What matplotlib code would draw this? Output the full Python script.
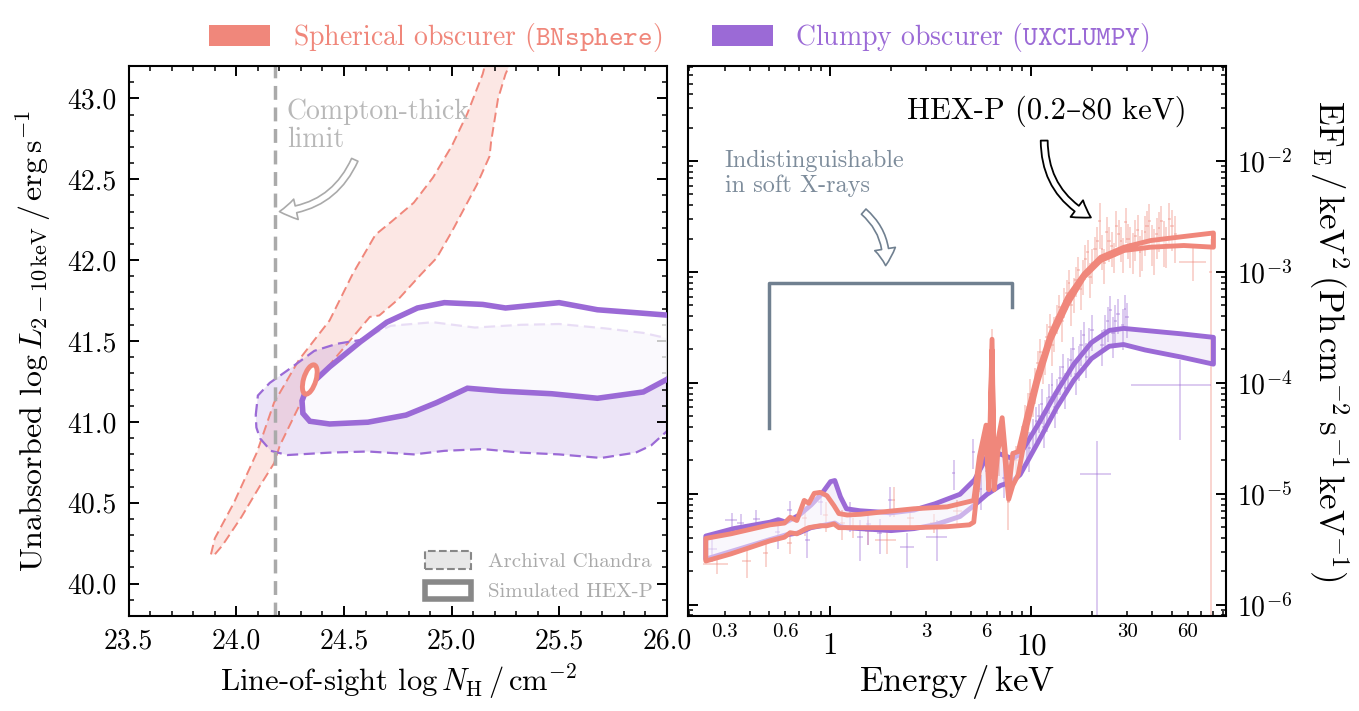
import numpy as np
import matplotlib
matplotlib.use('Agg')
import matplotlib.pyplot as plt
from matplotlib.colors import to_rgba
from matplotlib.patches import Patch, Polygon, Ellipse
from matplotlib.ticker import (MultipleLocator, FixedLocator, LogLocator, FuncFormatter,
                               FormatStrFormatter, NullFormatter)

plt.rcParams['font.family'] = ['cmr10', 'DejaVu Serif']
plt.rcParams['mathtext.fontset'] = 'cm'
plt.rcParams['axes.formatter.use_mathtext'] = True
plt.rcParams['axes.linewidth'] = 1.5
for ax_name in ['xtick', 'ytick']:
    plt.rcParams[f'{ax_name}.direction'] = 'in'
    plt.rcParams[f'{ax_name}.major.size'] = 7
    plt.rcParams[f'{ax_name}.minor.size'] = 3.5
    plt.rcParams[f'{ax_name}.major.width'] = 1.4
    plt.rcParams[f'{ax_name}.minor.width'] = 1.1
plt.rcParams['xtick.top'] = True
plt.rcParams['ytick.right'] = True

SPH = '#F0877B'
CLU = '#9B6AD6'
SLATE = '#708090'

# ---- left panel: N_H vs L_X confidence regions ----
compton_nh = 24.18

# archival Chandra, spherical obscurer (closed outline)
sph_chandra_nh = [23.882, 23.900, 23.989, 24.095, 24.175, 24.291, 24.433, 24.540, 24.646, 24.717,
                  24.824, 24.913, 25.002, 25.073, 25.144, 25.170, 25.295, 25.250, 25.215, 25.183,
                  25.176, 25.117, 25.055, 25.002, 24.930, 24.859, 24.753, 24.664, 24.620, 24.522,
                  24.397, 24.291, 24.202, 24.175, 24.113, 24.024, 23.935, 23.900]
sph_chandra_lx = [40.181, 40.280, 40.501, 40.810, 41.119, 41.384, 41.627, 41.914, 42.157, 42.234,
                  42.355, 42.510, 42.709, 42.907, 43.150, 43.283, 43.283, 43.150, 42.996, 42.731,
                  42.642, 42.466, 42.311, 42.179, 42.013, 41.914, 41.759, 41.658, 41.649, 41.494,
                  41.296, 41.097, 40.854, 40.744, 40.612, 40.413, 40.236, 40.181]

# archival Chandra, clumpy obscurer
clu_chandra_nh = [24.090, 24.100, 24.155, 24.237, 24.362, 24.468, 24.575, 24.717, 24.913, 25.108,
                  25.321, 25.499, 25.712, 25.890, 26.000, 26.100, 26.100, 26.000, 25.926, 25.855,
                  25.694, 25.499, 25.321, 25.144, 24.966, 24.824, 24.611, 24.433, 24.237, 24.160,
                  24.110, 24.093]
clu_chandra_lx = [41.042, 41.163, 41.241, 41.318, 41.439, 41.483, 41.506, 41.594, 41.616, 41.583,
                  41.600, 41.605, 41.578, 41.550, 41.517, 41.490, 41.030, 40.943, 40.854, 40.810,
                  40.777, 40.799, 40.810, 40.832, 40.821, 40.799, 40.817, 40.810, 40.795, 40.821,
                  40.898, 40.965]

# simulated HEX-P, clumpy obscurer
clu_hexp_nh = [24.305, 24.309, 24.341, 24.433, 24.611, 24.788, 24.930, 25.073, 25.233, 25.464,
               25.677, 25.890, 26.000, 26.100, 26.100, 26.000, 25.855, 25.677, 25.499, 25.250,
               25.144, 24.966, 24.841, 24.699, 24.575, 24.433, 24.353, 24.317]
clu_hexp_lx = [41.130, 41.053, 41.004, 40.987, 40.998, 41.042, 41.119, 41.208, 41.190, 41.174,
               41.146, 41.185, 41.263, 41.360, 41.660, 41.660, 41.675, 41.693, 41.737, 41.704,
               41.726, 41.737, 41.704, 41.616, 41.494, 41.340, 41.241, 41.174]

# simulated HEX-P, spherical obscurer (small ellipse)
sph_hexp_center = (24.341, 41.262)
sph_hexp_size = (0.058, 0.185)

# ---- right panel: spectra ----
sph_e = [0.24, 0.32, 0.50, 0.59, 0.63, 0.68, 0.74, 0.78, 0.83, 0.89, 0.96, 1.04, 1.10, 1.21, 1.41,
         1.77, 2.6, 3.8, 4.9, 5.15, 5.5, 5.93, 6.12, 6.35, 6.51, 6.8, 7.13, 7.68, 8.05, 8.57,
         9.5, 10.7, 12.4, 15.1, 18.2, 22.0, 28.8, 39.0, 57.0, 80.0]
sph_hi = [4.0e-6, 4.4e-6, 5.3e-6, 5.5e-6, 6.2e-6, 5.8e-6, 8.8e-6, 8.3e-6, 1.02e-5, 1.04e-5, 9.7e-6,
          7.9e-6, 6.7e-6, 6.5e-6, 6.6e-6, 6.9e-6, 7.4e-6, 7.7e-6, 8.6e-6, 8.8e-6, 2.2e-5, 4.2e-5,
          1.4e-5, 2.5e-4, 1.4e-5, 3.1e-5, 4.9e-5, 1.1e-5, 2.33e-5, 2.43e-5, 5.3e-5, 1.22e-4,
          2.8e-4, 6.0e-4, 9.7e-4, 1.37e-3, 1.69e-3, 1.94e-3, 2.11e-3, 2.27e-3]
sph_lo = [2.5e-6, 2.9e-6, 3.8e-6, 4.1e-6, 4.5e-6, 4.4e-6, 4.8e-6, 5.0e-6, 5.1e-6, 5.2e-6, 5.2e-6,
          5.4e-6, 5.0e-6, 5.0e-6, 5.0e-6, 5.0e-6, 5.0e-6, 5.1e-6, 5.3e-6, 5.6e-6, 1.7e-5, 3.4e-5,
          1.1e-5, 2.0e-4, 1.1e-5, 2.5e-5, 3.9e-5, 0.9e-5, 1.2e-5, 1.5e-5, 4.2e-5, 1.02e-4,
          2.43e-4, 5.2e-4, 9.1e-4, 1.28e-3, 1.58e-3, 1.69e-3, 1.75e-3, 1.69e-3]

clu_e = [0.24, 0.33, 0.50, 0.55, 0.60, 0.70, 0.80, 0.90, 1.00, 1.05, 1.12, 1.20, 1.40, 2.0, 2.6,
         3.3, 4.4, 5.2, 6.0, 7.0, 8.0, 8.75, 10.7, 13.2, 16.2, 19.8, 24.3, 28.6, 36.6, 55.0, 80.0]
clu_hi = [4.2e-6, 4.9e-6, 5.6e-6, 5.9e-6, 5.6e-6, 6.5e-6, 8.0e-6, 1.0e-5, 1.3e-5, 1.33e-5, 9.5e-6,
          7.4e-6, 7.1e-6, 6.8e-6, 7.2e-6, 8.2e-6, 1.0e-5, 1.35e-5, 2.2e-5, 2.3e-5, 2.1e-5, 2.3e-5,
          4.2e-5, 8.2e-5, 1.49e-4, 2.33e-4, 3.0e-4, 3.13e-4, 3.0e-4, 2.8e-4, 2.6e-4]
clu_lo = [2.6e-6, 3.1e-6, 3.9e-6, 4.1e-6, 4.3e-6, 4.5e-6, 5.0e-6, 5.2e-6, 5.4e-6, 5.5e-6, 5.1e-6,
          5.0e-6, 4.9e-6, 4.7e-6, 4.9e-6, 5.3e-6, 6.3e-6, 8.0e-6, 1.0e-5, 1.2e-5, 1.3e-5, 1.5e-5,
          2.9e-5, 5.9e-5, 1.07e-4, 1.67e-4, 2.16e-4, 2.24e-4, 2.0e-4, 1.73e-4, 1.49e-4]

# simulated HEX-P data: energy, flux, fractional x error, fractional y error
sph_data_e = [0.273, 0.385, 0.48, 0.63, 0.75, 0.95, 1.15, 1.30, 1.55, 1.91, 2.07, 2.5, 3.3, 4.3,
              5.5, 6.35, 6.9, 7.7, 8.4,
              9.0, 9.6, 10.2, 10.8, 11.4, 12.0, 12.7, 13.4, 14.2, 15.0, 15.8, 16.7, 17.6, 18.6,
              19.6, 20.7, 21.9, 23.1, 24.4, 25.8, 27.2, 28.7, 30.3, 32.0, 33.8, 35.7, 37.7, 39.8,
              42.0, 44.4, 47.0, 50.0, 64.0, 78.0,
              9.3, 9.9, 10.5, 11.1, 11.7, 12.35, 13.05, 13.8, 14.6, 15.4, 16.25, 17.15, 18.1, 19.1,
              20.1, 21.3, 22.5, 23.7, 25.1, 26.5, 27.9, 29.5, 31.1, 32.9, 34.7, 36.7, 38.7, 40.9,
              43.2, 45.7, 48.5, 52.0]
sph_data_f = [2.35e-6, 2.5e-6, 2.9e-6, 3.6e-6, 6.0e-6, 6.5e-6, 5.5e-6, 5.0e-6, 4.6e-6, 3.8e-6,
              8.8e-6, 6.0e-6, 5.5e-6, 7.0e-6, 1.6e-5, 1.9e-4, 2.4e-5, 8.5e-6, 2.0e-5,
              3.0e-5, 6.0e-5, 7.0e-5, 1.5e-4, 1.4e-4, 2.6e-4, 2.2e-4, 3.9e-4, 3.6e-4, 6.5e-4,
              5.0e-4, 8.5e-4, 7.0e-4, 1.3e-3, 9.0e-4, 1.6e-3, 2.9e-3, 1.2e-3, 1.9e-3, 1.4e-3,
              2.2e-3, 1.5e-3, 2.0e-3, 1.6e-3, 2.4e-3, 1.7e-3, 2.6e-3, 1.9e-3, 2.2e-3, 2.9e-3,
              1.8e-3, 2.6e-3, 1.24e-3, 1.0e-3,
              4.5e-5, 8.0e-5, 1.0e-4, 1.9e-4, 1.8e-4, 3.2e-4, 2.9e-4, 4.8e-4, 5.5e-4, 8.0e-4,
              6.5e-4, 1.05e-3, 9.5e-4, 1.5e-3, 1.2e-3, 1.9e-3, 1.6e-3, 2.3e-3, 1.7e-3, 2.6e-3,
              1.9e-3, 2.8e-3, 1.8e-3, 2.1e-3, 1.5e-3, 2.3e-3, 2.9e-3, 1.7e-3, 2.5e-3, 2.0e-3,
              3.0e-3, 2.2e-3]
sph_data_ex = [0.14, 0.05, 0.03, 0.03, 0.03, 0.03, 0.03, 0.03, 0.04, 0.12, 0.02, 0.04, 0.05, 0.05,
               0.02, 0.01, 0.02, 0.02, 0.02,
               0.02, 0.02, 0.02, 0.02, 0.02, 0.02, 0.02, 0.02, 0.02, 0.02, 0.02, 0.02, 0.02, 0.02,
               0.02, 0.02, 0.02, 0.02, 0.02, 0.02, 0.02, 0.02, 0.02, 0.02, 0.02, 0.02, 0.02, 0.02,
               0.02, 0.02, 0.02, 0.02, 0.15, 0.02,
               0.015, 0.015, 0.015, 0.015, 0.015, 0.015, 0.015, 0.015, 0.015, 0.015, 0.015, 0.015,
               0.015, 0.015, 0.015, 0.015, 0.015, 0.015, 0.015, 0.015, 0.015, 0.015, 0.015, 0.015,
               0.015, 0.015, 0.015, 0.015, 0.015, 0.015, 0.015, 0.015]
sph_data_ey = [0.2, 0.3, 0.25, 0.2, 0.3, 0.3, 0.3, 0.2, 0.25, 0.25, 0.3, 0.2, 0.2, 0.25,
               0.35, 0.6, 0.4, 0.45, 0.35,
               0.35, 0.35, 0.3, 0.3, 0.3, 0.3, 0.35, 0.3, 0.35, 0.3, 0.35, 0.3, 0.35, 0.35,
               0.35, 0.3, 0.45, 0.35, 0.35, 0.3, 0.35, 0.35, 0.35, 0.4, 0.35, 0.4, 0.35, 0.4,
               0.4, 0.35, 0.4, 0.4, 0.33, 0.9999,
               0.4, 0.35, 0.35, 0.3, 0.35, 0.3, 0.35, 0.3, 0.3, 0.3, 0.35, 0.3, 0.35, 0.3,
               0.35, 0.35, 0.35, 0.35, 0.35, 0.35, 0.35, 0.35, 0.4, 0.4, 0.4, 0.4, 0.4, 0.45,
               0.4, 0.45, 0.4, 0.45]

clu_data_e = [0.26, 0.324, 0.36, 0.43, 0.55, 0.63, 0.77, 0.9, 1.25, 1.41, 1.55, 1.77, 1.99, 2.41,
              3.39, 4.11, 5.16, 5.6, 6.0, 6.6, 7.3, 8.0,
              9.5, 10.2, 10.9, 11.6, 12.3, 13.1, 13.9, 14.8, 15.7, 16.7, 17.7, 18.8, 20.0, 21.2,
              22.5, 24.0, 25.5, 27.0, 28.5, 30.0, 55.0,
              9.8, 10.55, 11.25, 11.95, 12.7, 13.5, 14.35, 15.25, 16.2, 17.2, 18.25, 19.4, 23.2,
              24.7, 26.2, 29.2]
clu_data_f = [3.2e-6, 5.8e-6, 5.5e-6, 5.9e-6, 4.5e-6, 7.1e-6, 3.8e-6, 8.5e-6, 6.5e-6, 4.1e-6,
              5.3e-6, 4.4e-6, 8.8e-6, 3.3e-6, 4.1e-6, 1.55e-5, 2.4e-5, 1.1e-5, 1.6e-5, 2.0e-5,
              1.4e-5, 1.8e-5,
              3.0e-5, 3.5e-5, 5.0e-5, 4.0e-5, 7.5e-5, 6.0e-5, 1.1e-4, 9.0e-5, 1.6e-4, 1.2e-4,
              2.2e-4, 1.7e-4, 3.0e-4, 1.5e-5, 2.2e-4, 3.6e-4, 2.8e-4, 4.2e-4, 3.3e-4, 3.9e-4,
              9.5e-5,
              2.6e-5, 4.5e-5, 6.5e-5, 5.5e-5, 9.5e-5, 8.0e-5, 1.4e-4, 1.25e-4, 2.0e-4, 1.6e-4,
              2.7e-4, 2.3e-4, 3.0e-4, 4.5e-4, 3.6e-4, 4.6e-4]
clu_data_ex = [0.06, 0.07, 0.04, 0.04, 0.03, 0.03, 0.03, 0.03, 0.03, 0.03, 0.03, 0.03, 0.02, 0.08,
               0.12, 0.02, 0.02, 0.02, 0.02, 0.02, 0.02, 0.02,
               0.02, 0.02, 0.02, 0.02, 0.02, 0.02, 0.02, 0.02, 0.02, 0.02, 0.02, 0.02, 0.02, 0.18,
               0.02, 0.02, 0.02, 0.02, 0.02, 0.02, 0.43,
               0.015, 0.015, 0.015, 0.015, 0.015, 0.015, 0.015, 0.015, 0.015, 0.015, 0.015, 0.015,
               0.015, 0.015, 0.015, 0.015]
clu_data_ey = [0.25, 0.15, 0.2, 0.2, 0.3, 0.2, 0.3, 0.25, 0.3, 0.4, 0.35, 0.35, 0.3, 0.35,
               0.4, 0.3, 0.3, 0.35, 0.35, 0.35, 0.35, 0.35,
               0.35, 0.35, 0.3, 0.35, 0.3, 0.35, 0.3, 0.35, 0.3, 0.35, 0.35, 0.35, 0.35, 0.9999,
               0.35, 0.35, 0.4, 0.35, 0.4, 0.35, 0.68,
               0.4, 0.35, 0.35, 0.35, 0.3, 0.35, 0.3, 0.35, 0.3, 0.35, 0.3, 0.35, 0.35, 0.35,
               0.4, 0.35]

# soft X-ray bracket (energy, flux)
bracket_e = [0.5, 0.5, 8.0, 8.0]
bracket_f = [3.9e-5, 7.9e-4, 7.9e-4, 4.8e-4]

# energies that get a small label under the minor ticks
minor_labels = [0.3, 0.6, 3, 6, 30, 60]

fig = plt.figure(figsize=(13.59, 7.11), dpi=100)
ax1 = fig.add_axes([0.0947, 0.1336, 0.3961, 0.7736])
ax2 = fig.add_axes([0.5063, 0.1336, 0.3959, 0.7736])

# ---- left panel ----
ax1.add_patch(Polygon(np.column_stack([sph_chandra_nh, sph_chandra_lx]), closed=True,
                      fc=to_rgba(SPH, 0.2), ec='none', zorder=1))
ax1.add_patch(Polygon(np.column_stack([clu_chandra_nh, clu_chandra_lx]), closed=True,
                      fc=to_rgba(CLU, 0.18), ec='none', zorder=1))
ax1.add_patch(Polygon(np.column_stack([sph_chandra_nh, sph_chandra_lx]), closed=True,
                      fc='none', ec=SPH, ls=(0, (5, 2.5)), lw=1.4, zorder=2))
ax1.add_patch(Polygon(np.column_stack([clu_chandra_nh, clu_chandra_lx]), closed=True,
                      fc='none', ec=CLU, ls=(0, (5, 2.5)), lw=1.6, zorder=2))
ax1.axvline(compton_nh, color='#aaaaaa', ls=(0, (4, 2.2)), lw=2.5, zorder=2.5)

ax1.add_patch(Polygon(np.column_stack([clu_hexp_nh, clu_hexp_lx]), closed=True,
                      fc=to_rgba('white', 0.78), ec='none', zorder=3))
ax1.add_patch(Polygon(np.column_stack([clu_hexp_nh, clu_hexp_lx]), closed=True,
                      fc='none', ec=CLU, lw=4, zorder=4))
ax1.add_patch(Ellipse(sph_hexp_center, sph_hexp_size[0], sph_hexp_size[1], angle=-12,
                      fc='white', ec=SPH, lw=3.5, zorder=4))

ax1.text(24.235, 43.0, 'Compton-thick\nlimit', color='#b8b8b8', fontsize=20, ha='left', va='top',
         linespacing=1.1)
ax1.annotate('', xy=(24.20, 42.30), xytext=(24.55, 42.62),
             arrowprops=dict(arrowstyle='simple,head_length=0.6,head_width=0.75,tail_width=0.25',
                             fc='white', ec='#aaaaaa', lw=1.2, mutation_scale=20,
                             connectionstyle='arc3,rad=-0.3', shrinkA=0, shrinkB=0))

ax1.legend(handles=[Patch(fc='#e8e8e8', ec='#888888', ls='--', lw=1.5),
                    Patch(fc='white', ec='#888888', lw=4)],
           labels=['Archival Chandra', 'Simulated HEX-P'], loc='lower right', frameon=False,
           fontsize=15, labelcolor='#aaaaaa', handlelength=2.2, handleheight=0.9,
           borderaxespad=0.3)

ax1.set_xlim(23.5, 26.0)
ax1.set_ylim(39.8, 43.2)
ax1.xaxis.set_major_locator(MultipleLocator(0.5))
ax1.xaxis.set_minor_locator(MultipleLocator(0.1))
ax1.yaxis.set_major_locator(MultipleLocator(0.5))
ax1.yaxis.set_minor_locator(MultipleLocator(0.1))
ax1.xaxis.set_major_formatter(FormatStrFormatter('%.1f'))
ax1.yaxis.set_major_formatter(FormatStrFormatter('%.1f'))
ax1.tick_params(which='both', labelsize=20, pad=9)
ax1.set_xlabel(r'Line-of-sight $\log N_\mathrm{H}\,/\,\mathrm{cm^{-2}}$', fontsize=22, labelpad=6)
ax1.set_ylabel(r'Unabsorbed $\log L_{2-10\,\mathrm{keV}}\,/\,\mathrm{erg\,s^{-1}}$', fontsize=23,
               labelpad=10)

# ---- right panel ----
ax2.set_xscale('log')
ax2.set_yscale('log')

sph_f = np.array(sph_data_f)
clu_f = np.array(clu_data_f)
ax2.errorbar(sph_data_e, sph_f,
             xerr=np.array(sph_data_e) * np.array(sph_data_ex),
             yerr=sph_f * np.array(sph_data_ey),
             fmt='none', ecolor=SPH, alpha=0.42, elinewidth=1.2, zorder=2)
ax2.errorbar(clu_data_e, clu_f,
             xerr=np.array(clu_data_e) * np.array(clu_data_ex),
             yerr=clu_f * np.array(clu_data_ey),
             fmt='none', ecolor=CLU, alpha=0.42, elinewidth=1.2, zorder=2)

ax2.fill_between(clu_e, clu_lo, clu_hi, facecolor=to_rgba(CLU, 0.1), edgecolor=CLU, lw=3.5, zorder=3)
ax2.fill_between(sph_e, sph_lo, sph_hi, facecolor=to_rgba('white', 0.5), edgecolor=SPH, lw=3.5, zorder=4)

ax2.plot(bracket_e, bracket_f, color=SLATE, lw=2.5, zorder=3)
ax2.text(0.299, 1.25e-2, 'Indistinguishable\nin soft X-rays', color='#7d8c9b', fontsize=17.5,
         ha='left', va='top', linespacing=1.1)
ax2.annotate('', xy=(1.89, 1.14e-3), xytext=(1.47, 3.5e-3),
             arrowprops=dict(arrowstyle='simple,head_length=0.6,head_width=0.75,tail_width=0.25',
                             fc='white', ec=SLATE, lw=1.2, mutation_scale=20,
                             connectionstyle='arc3,rad=-0.25', shrinkA=0, shrinkB=0))
ax2.text(2.42, 2.82e-2, 'HEX-P (0.2–80 keV)', color='black', fontsize=22, ha='left', va='center')
ax2.annotate('', xy=(19.8, 3.1e-3), xytext=(11.6, 1.53e-2),
             arrowprops=dict(arrowstyle='simple,head_length=0.6,head_width=0.75,tail_width=0.25',
                             fc='white', ec='black', lw=1.3, mutation_scale=20,
                             connectionstyle='arc3,rad=0.3', shrinkA=0, shrinkB=0))

ax2.set_xlim(0.197, 93)
ax2.set_ylim(7.9e-7, 7.2e-2)

ax2.xaxis.set_major_locator(FixedLocator([1, 10]))
ax2.xaxis.set_major_formatter(FuncFormatter(lambda v, p: f'{v:g}'))
ax2.xaxis.set_minor_locator(LogLocator(base=10, subs=np.arange(2, 10) * 1.0, numticks=20))
ax2.xaxis.set_minor_formatter(NullFormatter())
ax2.tick_params(axis='x', which='major', labelsize=22, pad=12)
for e_lab in minor_labels:
    ax2.text(e_lab, -0.012, f'{e_lab:g}', transform=ax2.get_xaxis_transform(),
             ha='center', va='top', fontsize=15)
ax2.yaxis.set_major_locator(LogLocator(base=10, numticks=20))
ax2.yaxis.set_minor_locator(LogLocator(base=10, subs=np.arange(2, 10) * 1.0, numticks=20))
ax2.yaxis.set_minor_formatter(NullFormatter())
ax2.tick_params(axis='y', which='both', labelleft=False, labelright=True, labelsize=20, pad=8)
ax2.yaxis.set_label_position('right')
ax2.set_xlabel(r'Energy$\,/\,$keV', fontsize=25, labelpad=2)
ax2.set_ylabel(r'$\mathrm{EF_E\,/\,keV^2\,(Ph\,cm^{-2}\,s^{-1}\,keV^{-1})}$', fontsize=25,
               rotation=270, labelpad=42)

# ---- shared legend on top ----
fig.legend(handles=[Patch(fc=SPH, ec='none'), Patch(fc=CLU, ec='none')],
           labels=[r'Spherical obscurer ($\mathtt{BNsphere}$)', r'Clumpy obscurer ($\mathtt{UXCLUMPY}$)'],
           loc='upper center', bbox_to_anchor=(0.5, 1.005), ncol=2, frameon=False, fontsize=20,
           labelcolor=[SPH, CLU], handlelength=2.2, handleheight=0.8, columnspacing=1.8)

fig.savefig('out.png', dpi=100)
